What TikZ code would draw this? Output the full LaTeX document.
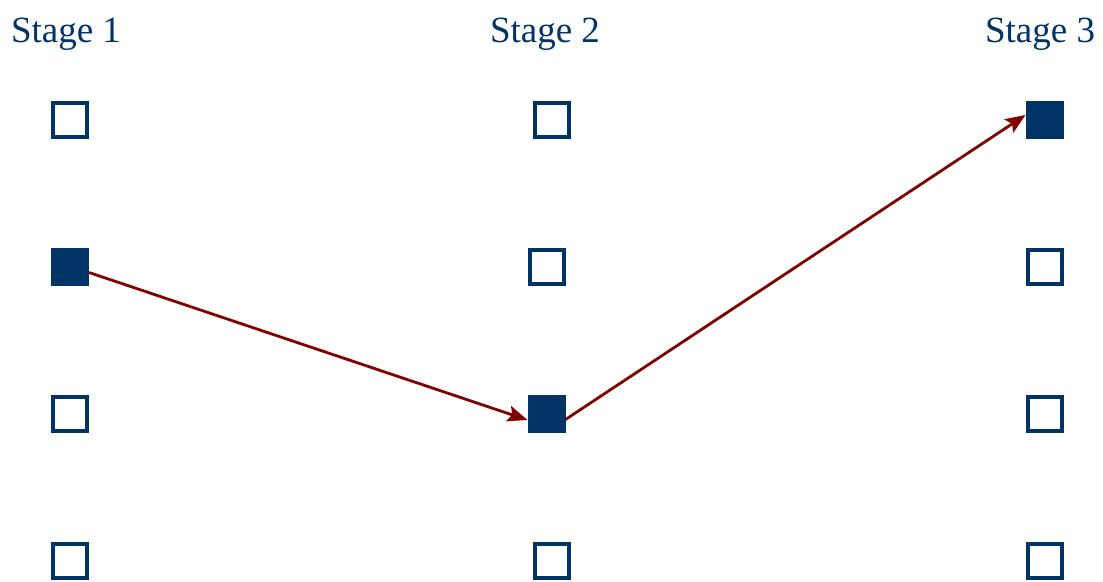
\documentclass[tikz,border=0pt]{standalone}
\usepackage{fontspec}
\setmainfont{Liberation Serif}
\usetikzlibrary{arrows.meta}
\definecolor{navy}{HTML}{003366}
\definecolor{darkred}{HTML}{800000}
\begin{document}
\begin{tikzpicture}[x=1pt,y=-1pt,
  box/.style={draw=navy,line width=4pt,minimum size=34pt,inner sep=0pt,fill=white},
  fbox/.style={box,fill=navy},
  lbl/.style={text=navy,font=\fontsize{37}{40}\selectfont,inner sep=0pt,anchor=base},
  conn/.style={draw=darkred,line width=2.8pt,-{Stealth[length=20pt,width=16pt,inset=4pt]}}]
\useasboundingbox (0,0) rectangle (1103,581);
\node[lbl] (s1) at (66,42) {Stage 1};
\node[lbl] (s2) at (545,42) {Stage 2};
\node[lbl] (s3) at (1040,42) {Stage 3};
\node[box]  (a1) at (70,120) {};
\node[fbox] (a2) at (70,267) {};
\node[box]  (a3) at (70,414) {};
\node[box]  (a4) at (70,561) {};
\node[box]  (b1) at (551.7,120) {};
\node[box]  (b2) at (546.5,267) {};
\node[fbox] (b3) at (546.5,414) {};
\node[box]  (b4) at (551.7,561) {};
\node[fbox] (c1) at (1044.5,120) {};
\node[box]  (c2) at (1044.5,267) {};
\node[box]  (c3) at (1044.5,414) {};
\node[box]  (c4) at (1044.5,561) {};
\draw[conn] ([yshift=-5.5pt]a2.east) -- ([yshift=-6pt]b3.west);
\draw[conn] ([yshift=-5.5pt]b3.east) -- ([yshift=5pt]c1.west);
\end{tikzpicture}
\end{document}
